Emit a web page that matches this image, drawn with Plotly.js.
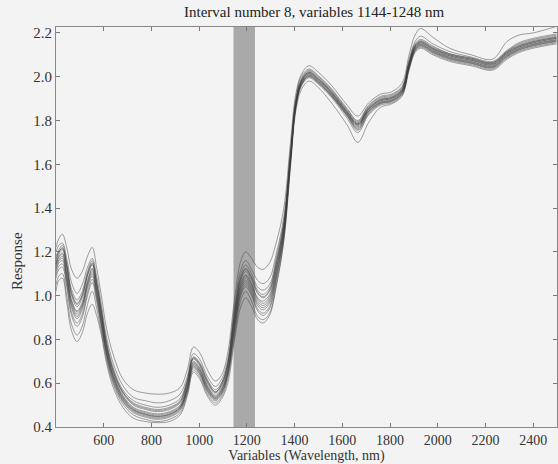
<!DOCTYPE html>
<html>
<head>
<meta charset="utf-8">
<script src="https://cdn.plot.ly/plotly-3.0.1.min.js"></script>
<style>html,body{margin:0;padding:0;background:#f3f3f3;}#chart{width:558px;height:464px;}</style>
</head>
<body>
<div id="chart"></div>
<script>
// Wavelengths (nm) at which each spectrum was read
const wavelengths = [400,412,427,445,465,488,510,532,552,570, 590,612,640,680,725,775,825,875,920,950, 976,1002,1035,1068,1095,1120,1150,1175,1195,1220, 1245,1268,1295,1325,1355,1383,1405,1428,1460,1500, 1555,1620,1665,1710,1760,1805,1850,1880,1905,1928, 1980,2050,2140,2230,2290,2340,2400,2498];

// Spectra (Response values)
const spec1 = [1.22,1.26,1.28,1.22,1.12,1.08,1.11,1.18,1.22,1.13, 1.00,0.85,0.73,0.62,0.57,0.555,0.55,0.555,0.58,0.66, 0.765,0.74,0.66,0.61,0.64,0.74,1.00,1.16,1.20,1.17, 1.13,1.12,1.15,1.25,1.40,1.70,1.92,2.01,2.05,2.02, 1.96,1.87,1.82,1.88,1.92,1.93,1.97,2.10,2.19,2.22, 2.18,2.13,2.10,2.08,2.16,2.19,2.20,2.23];
const spec2 = [1.20,1.23,1.24,1.17,1.06,1.01,1.05,1.13,1.17,1.09, 0.96,0.81,0.69,0.59,0.535,0.52,0.51,0.52,0.55,0.63, 0.735,0.71,0.63,0.585,0.62,0.71,0.97,1.12,1.16,1.12, 1.07,1.055,1.08,1.20,1.36,1.67,1.90,2.00,2.035,2.005, 1.945,1.855,1.80,1.87,1.91,1.92,1.955,2.08,2.16,2.185, 2.15,2.115,2.09,2.07,2.12,2.155,2.175,2.195];
const spec3 = [1.18,1.21,1.23,1.15,1.03,0.98,1.02,1.11,1.16,1.07, 0.94,0.79,0.67,0.57,0.52,0.50,0.49,0.50,0.53,0.615, 0.72,0.695,0.615,0.57,0.605,0.695,0.95,1.10,1.14,1.10, 1.04,1.025,1.05,1.18,1.34,1.655,1.89,1.99,2.03,2.0, 1.94,1.85,1.795,1.865,1.905,1.915,1.95,2.07,2.15,2.17, 2.14,2.105,2.085,2.065,2.115,2.15,2.17,2.19];
const spec4 = [1.17,1.20,1.22,1.14,1.015,0.965,1.005,1.10,1.15,1.06, 0.93,0.78,0.66,0.56,0.51,0.49,0.48,0.49,0.52,0.61, 0.715,0.69,0.61,0.56,0.60,0.69,0.935,1.085,1.125,1.085, 1.025,1.005,1.035,1.165,1.33,1.645,1.885,1.985,2.025,1.995, 1.935,1.845,1.79,1.86,1.90,1.91,1.945,2.065,2.145,2.165, 2.135,2.105,2.085,2.065,2.115,2.145,2.165,2.185];
const spec5 = [1.15,1.19,1.21,1.13,1.00,0.95,0.99,1.09,1.14,1.05, 0.92,0.77,0.65,0.555,0.50,0.48,0.47,0.48,0.51,0.60, 0.71,0.68,0.60,0.555,0.59,0.68,0.92,1.07,1.11,1.07, 1.01,0.99,1.02,1.15,1.32,1.64,1.88,1.98,2.02,1.99, 1.93,1.84,1.785,1.855,1.895,1.905,1.94,2.06,2.14,2.16, 2.13,2.10,2.08,2.06,2.11,2.14,2.16,2.18];
const spec6 = [1.14,1.18,1.195,1.11,0.98,0.93,0.97,1.07,1.125,1.035, 0.905,0.76,0.64,0.545,0.49,0.47,0.46,0.47,0.50,0.59, 0.70,0.67,0.59,0.545,0.58,0.67,0.905,1.055,1.095,1.055, 0.99,0.975,1.005,1.135,1.31,1.635,1.875,1.975,2.015,1.985, 1.925,1.835,1.78,1.85,1.89,1.90,1.935,2.055,2.135,2.155, 2.125,2.095,2.075,2.055,2.105,2.135,2.155,2.175];
const spec7 = [1.13,1.165,1.18,1.09,0.965,0.915,0.955,1.055,1.11,1.02, 0.89,0.745,0.63,0.535,0.48,0.46,0.45,0.46,0.49,0.58, 0.69,0.66,0.58,0.535,0.57,0.655,0.89,1.04,1.08,1.04, 0.975,0.955,0.985,1.12,1.30,1.63,1.87,1.97,2.01,1.98, 1.92,1.83,1.775,1.845,1.885,1.895,1.93,2.05,2.13,2.15, 2.12,2.09,2.07,2.05,2.10,2.13,2.15,2.17];
const spec8 = [1.11,1.15,1.16,1.07,0.945,0.895,0.935,1.035,1.09,1.00, 0.875,0.735,0.62,0.525,0.475,0.455,0.445,0.455,0.485,0.57, 0.68,0.65,0.57,0.53,0.56,0.645,0.87,1.02,1.06,1.02, 0.955,0.935,0.965,1.10,1.285,1.62,1.865,1.965,2.005,1.975, 1.915,1.825,1.765,1.84,1.88,1.89,1.925,2.045,2.125,2.145, 2.115,2.085,2.065,2.045,2.095,2.125,2.145,2.165];
const spec9 = [1.08,1.12,1.13,1.04,0.91,0.86,0.90,1.00,1.06,0.975, 0.855,0.72,0.605,0.515,0.465,0.445,0.435,0.445,0.475,0.56, 0.67,0.64,0.56,0.52,0.55,0.635,0.85,1.00,1.04,1.00, 0.93,0.91,0.94,1.08,1.27,1.61,1.86,1.96,2.00,1.97, 1.91,1.82,1.755,1.83,1.875,1.885,1.92,2.04,2.12,2.14, 2.11,2.08,2.06,2.04,2.09,2.12,2.14,2.16];
const spec10 = [1.05,1.09,1.10,1.00,0.87,0.82,0.86,0.96,1.02,0.945, 0.835,0.705,0.595,0.505,0.455,0.435,0.425,0.435,0.465,0.55, 0.66,0.63,0.55,0.51,0.54,0.62,0.83,0.98,1.02,0.975, 0.905,0.89,0.92,1.06,1.255,1.60,1.855,1.955,1.995,1.965, 1.905,1.81,1.745,1.825,1.87,1.88,1.915,2.035,2.115,2.135, 2.105,2.075,2.055,2.035,2.085,2.115,2.135,2.155];
const spec11 = [1.02,1.07,1.08,0.97,0.84,0.79,0.83,0.92,0.96,0.91, 0.82,0.69,0.58,0.49,0.44,0.425,0.42,0.425,0.455,0.54, 0.65,0.62,0.54,0.50,0.53,0.60,0.81,0.95,0.99,0.95, 0.89,0.875,0.91,1.05,1.25,1.59,1.84,1.94,1.98,1.95, 1.88,1.78,1.70,1.79,1.86,1.875,1.91,2.03,2.11,2.13, 2.10,2.07,2.05,2.03,2.08,2.11,2.13,2.15];
const spec12 = [1.16,1.20,1.215,1.135,1.01,0.96,1.00,1.095,1.145,1.055, 0.925,0.775,0.655,0.56,0.505,0.485,0.475,0.485,0.515,0.605, 0.715,0.685,0.605,0.56,0.595,0.685,0.93,1.08,1.12,1.08, 1.015,0.995,1.025,1.155,1.325,1.64,1.88,1.98,2.02,1.99, 1.93,1.84,1.785,1.855,1.895,1.905,1.94,2.06,2.14,2.16, 2.13,2.10,2.08,2.06,2.11,2.14,2.16,2.18];
const spec13 = [1.145,1.175,1.19,1.10,0.975,0.925,0.96,1.06,1.12,1.03, 0.90,0.755,0.635,0.54,0.485,0.465,0.455,0.465,0.495,0.585, 0.695,0.665,0.585,0.54,0.575,0.66,0.90,1.05,1.09,1.05, 0.985,0.965,0.995,1.13,1.305,1.63,1.87,1.975,2.015,1.985, 1.925,1.835,1.78,1.85,1.89,1.90,1.935,2.055,2.135,2.155, 2.125,2.095,2.075,2.055,2.105,2.135,2.155,2.175];
const spec14 = [1.12,1.16,1.17,1.08,0.955,0.905,0.945,1.045,1.10,1.01, 0.88,0.74,0.625,0.53,0.478,0.458,0.448,0.458,0.488,0.575, 0.685,0.655,0.575,0.532,0.565,0.65,0.88,1.03,1.07,1.03, 0.965,0.945,0.975,1.11,1.29,1.625,1.868,1.968,2.008,1.978, 1.918,1.828,1.77,1.842,1.882,1.892,1.928,2.048,2.128,2.148, 2.118,2.088,2.068,2.048,2.098,2.128,2.148,2.168];
const spec15 = [1.095,1.135,1.145,1.055,0.925,0.875,0.915,1.015,1.075,0.99, 0.865,0.728,0.612,0.52,0.47,0.45,0.44,0.45,0.48,0.565, 0.675,0.645,0.565,0.525,0.555,0.64,0.86,1.01,1.05,1.01, 0.94,0.92,0.95,1.09,1.28,1.615,1.862,1.962,2.002,1.972, 1.912,1.822,1.76,1.835,1.878,1.888,1.922,2.042,2.122,2.142, 2.112,2.082,2.062,2.042,2.092,2.122,2.142,2.162];

// Selected interval (shaded band)
const intervalStart = 1144;
const intervalEnd = 1234;

// Axis ticks
const xTicks = [600,800,1000,1200,1400,1600,1800,2000,2200,2400];
const yTicks = [0.4,0.6,0.8,1.0,1.2,1.4,1.6,1.8,2.0,2.2];

const spectra = [spec1,spec2,spec3,spec4,spec12,spec5,spec6,spec13,spec7,spec14,spec8,spec15,spec9,spec10,spec11];
const serif = 'Liberation Serif';

const traces = spectra.map(function(s){
  return {x: wavelengths, y: s, type:'scatter', mode:'lines',
    line:{color:'rgba(60,60,60,0.6)', width:0.8, shape:'spline', smoothing:1},
    hoverinfo:'skip', showlegend:false};
});

const layout = {
  width:558, height:464,
  margin:{l:56, r:1, t:27, b:37},
  paper_bgcolor:'#f3f3f3', plot_bgcolor:'#f3f3f3',
  title:{text:'Interval number 8, variables 1144-1248 nm', font:{family:serif, size:15, color:'#222'},
    x:0.563, xref:'container', xanchor:'center', y:0.975, yref:'container', yanchor:'middle'},
  xaxis:{range:[400,2500], tickvals:xTicks, ticktext:xTicks.map(String), ticks:'inside', ticklen:4,
    tickcolor:'#777', showline:true, linecolor:'#888', linewidth:1, mirror:'ticks', showgrid:false,
    zeroline:false, tickfont:{family:serif, size:14, color:'#333'}, automargin:false,
    title:{text:'Variables (Wavelength, nm)', font:{family:serif, size:14, color:'#333'}, standoff:4}},
  yaxis:{range:[0.4,2.227], tickvals:yTicks, ticktext:yTicks.map(function(v){return v.toFixed(1);}),
    ticks:'inside', ticklen:4, tickcolor:'#777', showline:true, linecolor:'#888', linewidth:1,
    mirror:'ticks', showgrid:false, zeroline:false, automargin:false,
    tickfont:{family:serif, size:15, color:'#333'}},
  shapes:[{type:'rect', xref:'x', yref:'paper', x0:intervalStart, x1:intervalEnd, y0:0, y1:1,
    fillcolor:'#a9a9a9', line:{width:0}, layer:'below'}],
  annotations:[{text:'Response', xref:'paper', yref:'paper', x:-0.078, y:0.415, textangle:-90,
    showarrow:false, xanchor:'center', yanchor:'middle', font:{family:serif, size:15, color:'#333'}}]
};

Plotly.newPlot('chart', traces, layout, {displayModeBar:false, staticPlot:true});
</script>
</body>
</html>
